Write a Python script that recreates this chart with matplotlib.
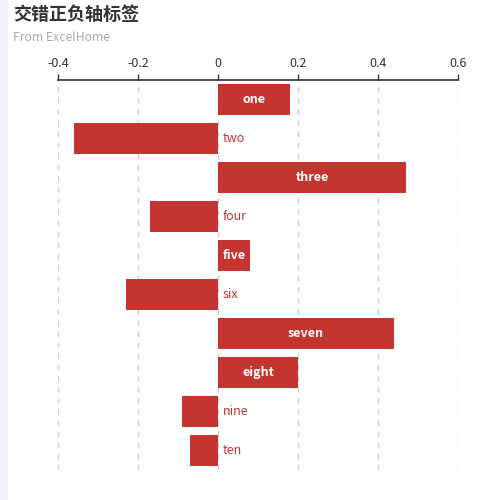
import matplotlib
matplotlib.use("Agg")
import matplotlib.pyplot as plt
from matplotlib.patches import Rectangle

plt.rcParams['font.family'] = ['Noto Sans CJK SC', 'DejaVu Sans']

categories = ['one', 'two', 'three', 'four', 'five', 'six', 'seven', 'eight', 'nine', 'ten']
values = [0.18, -0.36, 0.47, -0.17, 0.08, -0.23, 0.44, 0.2, -0.09, -0.07]
xticks = [-0.4, -0.2, 0, 0.2, 0.4, 0.6]
xticklabels = ['-0.4', '-0.2', '0', '0.2', '0.4', '0.6']

title = '交错正负轴标签'
subtitle = 'From ExcelHome'

bar_color = '#c23531'

fig = plt.figure(figsize=(5, 5), dpi=100)
fig.patch.set_facecolor('white')
fig.patches.append(Rectangle((0, 0), 0.016, 1, transform=fig.transFigure,
                             facecolor='#f1f2f7', edgecolor='none', zorder=0))

ax = fig.add_axes([0.116, 0.06, 0.8, 0.78])
y = list(range(len(categories)))
ax.barh(y, values, height=0.8, color=bar_color, zorder=3)
ax.set_ylim(len(categories) - 0.5, -0.5)
ax.set_xlim(-0.4, 0.6)

for i, (c, v) in enumerate(zip(categories, values)):
    if v >= 0:
        ax.text(v / 2, i, c, ha='center', va='center', color='white',
                fontsize=9, fontweight='bold', zorder=4)
    else:
        ax.annotate(c, xy=(0, i), xytext=(3.5, 0), textcoords='offset points',
                    ha='left', va='center', color=bar_color, fontsize=9, zorder=4)

ax.xaxis.tick_top()
ax.set_xticks(xticks)
ax.set_xticklabels(xticklabels, fontsize=9, color='#333333')
ax.tick_params(axis='x', direction='out', length=4, width=1, color='#333333', pad=3)
ax.set_yticks([])
for s in ['left', 'right', 'bottom']:
    ax.spines[s].set_visible(False)
ax.spines['top'].set_color('#333333')
ax.spines['top'].set_linewidth(1.2)
ax.grid(axis='x', linestyle=(0, (4, 4)), color='#cccccc', linewidth=1, zorder=0)

fig.text(0.026, 0.972, title, fontsize=13, fontweight='bold', color='#333333',
         ha='left', va='center')
fig.text(0.026, 0.925, subtitle, fontsize=8.8, color='#aaaaaa', ha='left', va='center')

fig.savefig('out.png', dpi=100, facecolor=fig.get_facecolor())
